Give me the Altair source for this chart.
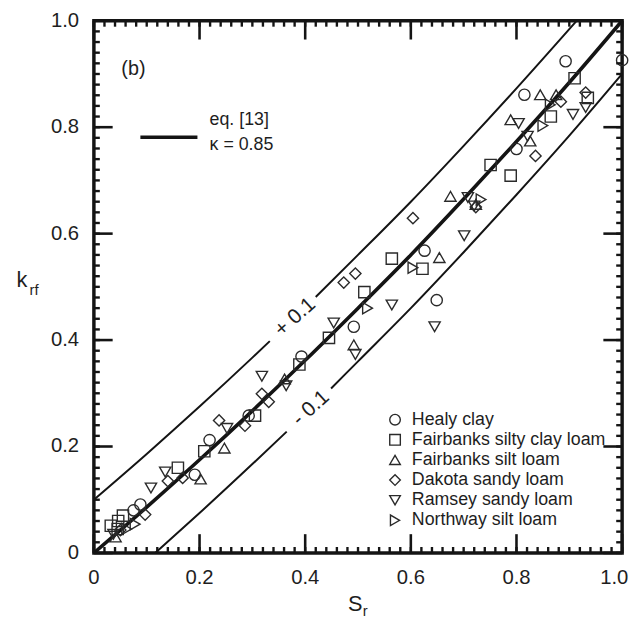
import altair as alt
import pandas as pd

# ---------------- data ----------------
soils = ["Healy clay", "Fairbanks silty clay loam", "Fairbanks silt loam",
         "Dakota sandy loam", "Ramsey sandy loam", "Northway silt loam"]
shapes = ["circle", "square", "triangle-up", "diamond", "triangle-down", "triangle-right"]

healy_sr = [0.075, 0.088, 0.191, 0.219, 0.293, 0.393, 0.492, 0.626, 0.649, 0.800, 0.815, 0.893, 1.000]
healy_k = [0.080, 0.091, 0.147, 0.212, 0.258, 0.369, 0.425, 0.568, 0.475, 0.759, 0.861, 0.924, 0.926]

fscl_sr = [0.032, 0.046, 0.055, 0.045, 0.159, 0.209, 0.305, 0.389, 0.445, 0.512, 0.564, 0.622,
           0.751, 0.789, 0.865, 0.910, 0.935]
fscl_k = [0.051, 0.060, 0.070, 0.045, 0.160, 0.191, 0.258, 0.354, 0.404, 0.490, 0.553, 0.534,
          0.729, 0.709, 0.820, 0.892, 0.855]

fsl_sr = [0.041, 0.202, 0.247, 0.361, 0.492, 0.654, 0.675, 0.723, 0.789, 0.826, 0.845, 0.875]
fsl_k = [0.030, 0.139, 0.197, 0.327, 0.391, 0.555, 0.670, 0.655, 0.814, 0.774, 0.861, 0.861]

dsl_sr = [0.050, 0.097, 0.140, 0.168, 0.237, 0.286, 0.318, 0.331, 0.473, 0.495, 0.604, 0.723,
          0.836, 0.884, 0.931]
dsl_k = [0.043, 0.072, 0.135, 0.141, 0.249, 0.239, 0.299, 0.284, 0.508, 0.525, 0.629, 0.650,
         0.746, 0.848, 0.865]

rsl_sr = [0.037, 0.108, 0.135, 0.252, 0.318, 0.364, 0.454, 0.495, 0.564, 0.645, 0.701, 0.708,
          0.720, 0.804, 0.821, 0.907, 0.931]
rsl_k = [0.035, 0.122, 0.152, 0.234, 0.332, 0.314, 0.432, 0.373, 0.466, 0.425, 0.596, 0.668,
         0.652, 0.807, 0.783, 0.824, 0.837]

nsl_sr = [0.062, 0.078, 0.518, 0.604, 0.733, 0.850, 0.864]
nsl_k = [0.045, 0.054, 0.460, 0.536, 0.664, 0.803, 0.842]

# eq. [13] curve (kappa = 0.85) and the +/- 0.1 bands
curve_sr = [0.0, 0.1, 0.2, 0.3, 0.4, 0.5, 0.6, 0.7, 0.8, 0.9, 1.0]
curve_k = [0.0, 0.086, 0.175, 0.267, 0.362, 0.460, 0.560, 0.665, 0.773, 0.884, 1.0]

upper1_sr = [0.0, 0.1, 0.2, 0.3, 0.333]
upper1_k = [0.100, 0.186, 0.275, 0.367, 0.398]
upper2_sr = [0.42, 0.5, 0.6, 0.7, 0.8, 0.914]
upper2_k = [0.481, 0.560, 0.660, 0.765, 0.873, 1.0]

lower1_sr = [0.116, 0.2, 0.3, 0.365]
lower1_k = [0.0, 0.075, 0.167, 0.228]
lower2_sr = [0.449, 0.5, 0.6, 0.7, 0.8, 0.9, 1.0]
lower2_k = [0.309, 0.360, 0.460, 0.565, 0.673, 0.784, 0.900]

major_ticks = [0.0, 0.2, 0.4, 0.6, 0.8, 1.0]
tick_labels = ["0", "0.2", "0.4", "0.6", "0.8", "1.0"]
xlabel_pos = [0.0, 0.2, 0.4, 0.6, 0.8, 0.985]
minor_ticks = [round(i * 0.02, 2) for i in range(51)]

band_labels = ["+ 0.1", "- 0.1"]
band_label_sr = [0.381, 0.411]
band_label_k = [0.443, 0.272]

# ---------------- build tables ----------------
rows = []
for name, xs_, ys_ in zip(soils, [healy_sr, fscl_sr, fsl_sr, dsl_sr, rsl_sr, nsl_sr],
                          [healy_k, fscl_k, fsl_k, dsl_k, rsl_k, nsl_k]):
    for a, b in zip(xs_, ys_):
        rows.append({"Sr": a, "k": b, "soil": name})
pts = pd.DataFrame(rows)


def line_df(xs_, ys_):
    return pd.DataFrame({"Sr": xs_, "k": ys_})


W, H = 535, 539
FONT = "Liberation Sans"
INK = "#141414"
TXT = "#1e1e1e"
xsc = alt.Scale(domain=[0, 1], nice=False, zero=False)
ysc = alt.Scale(domain=[0, 1], nice=False, zero=False)
XN = dict(scale=xsc, axis=None)
YN = dict(scale=ysc, axis=None)


def line_layer(df, sw):
    return alt.Chart(df).mark_line(color=INK, strokeWidth=sw, interpolate="monotone").encode(
        x=alt.X("Sr:Q", **XN),
        y=alt.Y("k:Q", **YN),
    )


main = line_layer(line_df(curve_sr, curve_k), 3.6)
up1 = line_layer(line_df(upper1_sr, upper1_k), 2.0)
up2 = line_layer(line_df(upper2_sr, upper2_k), 2.0)
lo1 = line_layer(line_df(lower1_sr, lower1_k), 2.0)
lo2 = line_layer(line_df(lower2_sr, lower2_k), 2.0)


# inward ticks on all four sides: each tick is a two-point path (long format)
def tick_paths(values, px, tag):
    lx, ly = px / W, px / H
    out = []
    n = 0
    for v in values:
        for (a0, b0, a1, b1) in [(v, 0.0, v, ly), (v, 1.0, v, 1.0 - ly),
                                 (0.0, v, lx, v), (1.0, v, 1.0 - lx, v)]:
            tid = f"{tag}{n}"
            out.append({"tx": a0, "ty": b0, "tid": tid, "o": 0})
            out.append({"tx": a1, "ty": b1, "tid": tid, "o": 1})
            n += 1
    return pd.DataFrame(out)


def tick_layer(df, w):
    return alt.Chart(df).mark_line(color=INK, strokeWidth=w, strokeCap="butt").encode(
        x=alt.X("tx:Q", **XN), y=alt.Y("ty:Q", **YN),
        detail="tid:N", order="o:Q")


maj_layer = tick_layer(tick_paths(major_ticks, 19, "M"), 2.6)
min_layer = tick_layer(tick_paths(minor_ticks, 6, "m"), 2.4)

# outside texts: tick labels and axis symbols, grouped by alignment
LAB_FS = 20.5
center_df = pd.DataFrame({
    "t": tick_labels + ["S"],
    "Sr": xlabel_pos + [0.495],
    "k": [-0.048] * len(tick_labels) + [-0.096],
    "fs": [LAB_FS] * len(tick_labels) + [22],
})
right_df = pd.DataFrame({
    "t": tick_labels + ["k"],
    "Sr": [-0.028] * len(tick_labels) + [-0.126],
    "k": major_ticks + [0.512],
    "fs": [LAB_FS] * len(tick_labels) + [22],
})
center_txt = alt.Chart(center_df).mark_text(font=FONT, color=TXT, align="center",
                                            baseline="middle", clip=False).encode(
    x=alt.X("Sr:Q", **XN), y=alt.Y("k:Q", **YN), text="t:N",
    size=alt.Size("fs:Q", scale=None, legend=None))
right_txt = alt.Chart(right_df).mark_text(font=FONT, color=TXT, align="right",
                                          baseline="middle", clip=False).encode(
    x=alt.X("Sr:Q", **XN), y=alt.Y("k:Q", **YN), text="t:N",
    size=alt.Size("fs:Q", scale=None, legend=None))

sub_text = ["r", "rf"]
sub_sr = [0.509, -0.122]
sub_k = [-0.11, 0.494]
sub = alt.Chart(pd.DataFrame({"t": sub_text, "Sr": sub_sr, "k": sub_k})).mark_text(
    font=FONT, fontSize=15, color=TXT, align="left", baseline="middle", clip=False).encode(
    x=alt.X("Sr:Q", **XN), y=alt.Y("k:Q", **YN), text="t:N")

points = alt.Chart(pts).mark_point(filled=False, size=130, strokeWidth=1.4, color="#2a2a2a",
                                   opacity=1, clip=False).encode(
    x=alt.X("Sr:Q", **XN),
    y=alt.Y("k:Q", **YN),
    shape=alt.Shape("soil:N", scale=alt.Scale(domain=soils, range=shapes), sort=soils,
                    legend=alt.Legend(orient="none", legendX=296, legendY=395, title=None,
                                      labelFont=FONT, labelFontSize=18, labelColor=TXT,
                                      labelLimit=400,
                                      symbolStrokeColor="#2a2a2a", symbolFillColor="white",
                                      symbolStrokeWidth=1.4, symbolSize=115, rowPadding=2.4,
                                      labelOffset=8, padding=0)),
)

bands = alt.Chart(pd.DataFrame({"t": band_labels, "Sr": band_label_sr, "k": band_label_k})).mark_text(
    font=FONT, fontSize=21, color=TXT, angle=318, align="center", baseline="middle").encode(
    x=alt.X("Sr:Q", **XN), y=alt.Y("k:Q", **YN), text="t:N")

# annotation texts (positions in data units)
ann_text = ["(b)", "eq. [13]", "\u03ba = 0.85"]
ann_sr = [0.052, 0.219, 0.219]
ann_k = [0.909, 0.814, 0.766]
ann_size = [20, 18, 18]
ann = alt.Chart(pd.DataFrame({"t": ann_text, "Sr": ann_sr, "k": ann_k, "fs": ann_size})).mark_text(
    font=FONT, color=TXT, align="left", baseline="middle").encode(
    x=alt.X("Sr:Q", **XN), y=alt.Y("k:Q", **YN), text="t:N",
    size=alt.Size("fs:Q", scale=None, legend=None))

key_line = alt.Chart(pd.DataFrame({"Sr": [0.088], "Sr2": [0.196], "k": [0.781]})).mark_rule(
    color=INK, strokeWidth=3.6).encode(
    x=alt.X("Sr:Q", **XN), x2="Sr2:Q", y=alt.Y("k:Q", **YN))

chart = alt.layer(main, up1, up2, lo1, lo2, points, bands, ann, key_line,
                  center_txt, right_txt, sub, maj_layer, min_layer).properties(
    width=W, height=H,
    autosize=alt.AutoSizeParams(type="none"),
    padding={"left": 87, "top": 9, "right": 10, "bottom": 64},
).configure_view(stroke=INK, strokeWidth=3.5)

chart.save("out.html", embed_options={"renderer": "svg", "actions": False})
